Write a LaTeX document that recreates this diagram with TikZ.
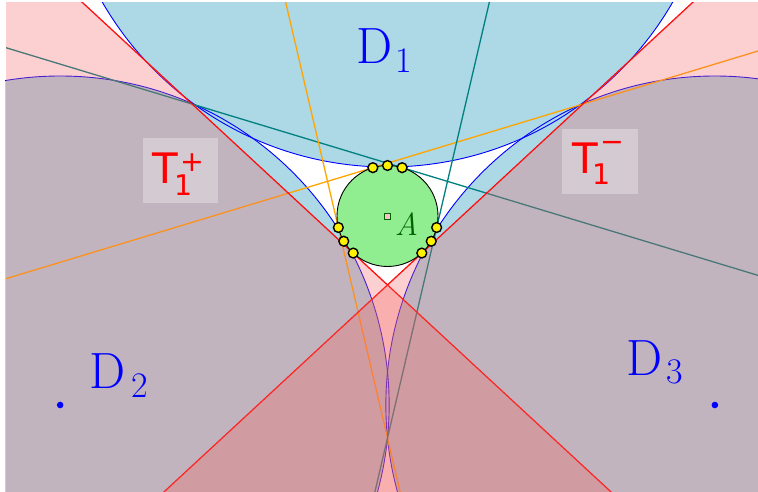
\documentclass[tikz,border=0pt]{standalone}
\usepackage{fontspec}
\newfontfamily\dejavu{DejaVu Sans}
\definecolor{dblue}{RGB}{173,216,230}
\definecolor{lgreen}{RGB}{144,238,144}
\definecolor{tealc}{RGB}{0,128,128}
\definecolor{orangec}{RGB}{255,165,0}
\definecolor{agreen}{RGB}{0,100,0}
\definecolor{sqpink}{RGB}{255,192,203}
\definecolor{tpink}{RGB}{245,100,100}
\tikzset{
  dfillst/.style={fill=dblue},
  dedge/.style={draw=blue, line width=0.9pt},
  redln/.style={draw=red, line width=1.3pt},
  tealln/.style={draw=tealc, line width=1.3pt},
  orgln/.style={draw=orangec, line width=1.3pt},
  pinkreg/.style={fill=tpink, fill opacity=0.3},
  ypt/.style={circle, fill=yellow, draw=black, line width=1.4pt, minimum size=9.8pt, inner sep=0pt},
  dlab/.style={text=blue, inner sep=0pt, font=\fontsize{51}{51}\selectfont},
  dsub/.style={text=blue, inner sep=0pt, font=\fontsize{36}{36}\selectfont},
  tlab/.style={text=red, inner sep=0pt, font=\dejavu\fontsize{42}{42}\selectfont},
  tsub/.style={text=red, inner sep=0pt, font=\dejavu\fontsize{28.4}{28.4}\selectfont},
  tbox/.style={fill=white, fill opacity=0.3},
}
\begin{document}
\begin{tikzpicture}[x=1pt,y=-1pt]
\useasboundingbox (0,0) rectangle (758,492);
% key points
\coordinate (O) at (387.5,216);
\coordinate (C1) at (387.5,-162);
\coordinate (C2) at (60.14,405);
\coordinate (C3) at (714.86,405);
% line end points (beyond the frame, clipped)
\coordinate (L1a) at (68.9,-10);  \coordinate (L1b) at (619.7,500);
\coordinate (L2a) at (706.1,-10); \coordinate (L2b) at (155.3,500);
\coordinate (Ta) at (0,45.9);     \coordinate (Tb) at (770,279.0);
\coordinate (Oa) at (775,45.9);   \coordinate (Ob) at (0,280.5);
\coordinate (Va) at (282.8,-10);  \coordinate (Vb) at (402.0,500);
\coordinate (Wa) at (492.2,-10);  \coordinate (Wb) at (373.0,500);
% disks D1, D2, D3
\begin{scope}
  \clip (5,3) rectangle (758,492);
  \fill[dfillst] (C1) circle[radius=329pt];
  \fill[dfillst] (C2) circle[radius=329pt];
  \fill[dfillst] (C3) circle[radius=329pt];
  \draw[dedge] (C1) circle[radius=329pt];
  \draw[dedge] (C2) circle[radius=329pt];
  \draw[dedge] (C3) circle[radius=329pt];
\end{scope}
% lines and half-planes
\begin{scope}
  \clip (6,3) rectangle (758,492);
  \draw[tealln] (Ta) -- (Tb);
  \draw[orgln] (Oa) -- (Ob);
  \draw[orgln] (Va) -- (Vb);
  \draw[tealln] (Wa) -- (Wb);
  \draw[redln] (L1a) -- (L1b);
  \draw[redln] (L2a) -- (L2b);
  \fill[pinkreg] (L1a) -- (L1b) -- (-10,500) -- (-10,-10) -- cycle;
  \fill[pinkreg] (L2a) -- (L2b) -- (770,500) -- (770,-10) -- cycle;
\end{scope}
% circle A
\draw[fill=lgreen, draw=black, line width=0.9pt] (O) circle[radius=50.5pt];
\draw[fill=sqpink, draw=agreen, line width=0.9pt] (384.5,213.5) rectangle (390.5,219.5);
\node[anchor=base, text=agreen, inner sep=0pt, font=\fontsize{32}{32}\selectfont\itshape] (lA) at (406.5,235) {A};
% tangency points
\node[ypt] (y1) at (387.5,165.5) {};
\node[ypt] (y2) at (402.13,167.67) {};
\node[ypt] (y3) at (372.87,167.67) {};
\node[ypt] (y4) at (338.33,227.5) {};
\node[ypt] (y5) at (343.77,241.25) {};
\node[ypt] (y6) at (353.2,253.05) {};
\node[ypt] (y7) at (436.67,227.5) {};
\node[ypt] (y8) at (431.23,241.25) {};
\node[ypt] (y9) at (421.8,253.05) {};
% centres of D2, D3
\fill[blue] (C2) circle[radius=3.3pt];
\fill[blue] (C3) circle[radius=3.3pt];
% D labels
\node[dlab, anchor=base] (lD1) at (374.3,63.3) {D};
\node[dsub, anchor=base] (lD1s) at (403.8,72.3) {1};
\node[dlab, anchor=base] (lD2) at (107.5,388.3) {D};
\node[dsub, anchor=base] (lD2s) at (139.3,397.3) {2};
\node[dlab, anchor=base] (lD3) at (644.7,375) {D};
\node[dsub, anchor=base] (lD3s) at (675,383.3) {3};
% T labels
\fill[tbox] (142.7,138.3) rectangle (218.3,203.3);
\node[tlab, anchor=base] (lT1) at (165,183) {T};
\node[tsub, anchor=base] (lT1s) at (183.5,195) {1};
\node[tsub, anchor=center] (lT1p) at (192.5,162.5) {+};
\fill[tbox] (561.7,129) rectangle (637.7,194);
\node[tlab, anchor=base] (lT2) at (585,173.3) {T};
\node[tsub, anchor=base] (lT2s) at (602,185) {1};
\node[tsub, anchor=center] (lT2m) at (612,146.7) {−};
\end{tikzpicture}
\end{document}
